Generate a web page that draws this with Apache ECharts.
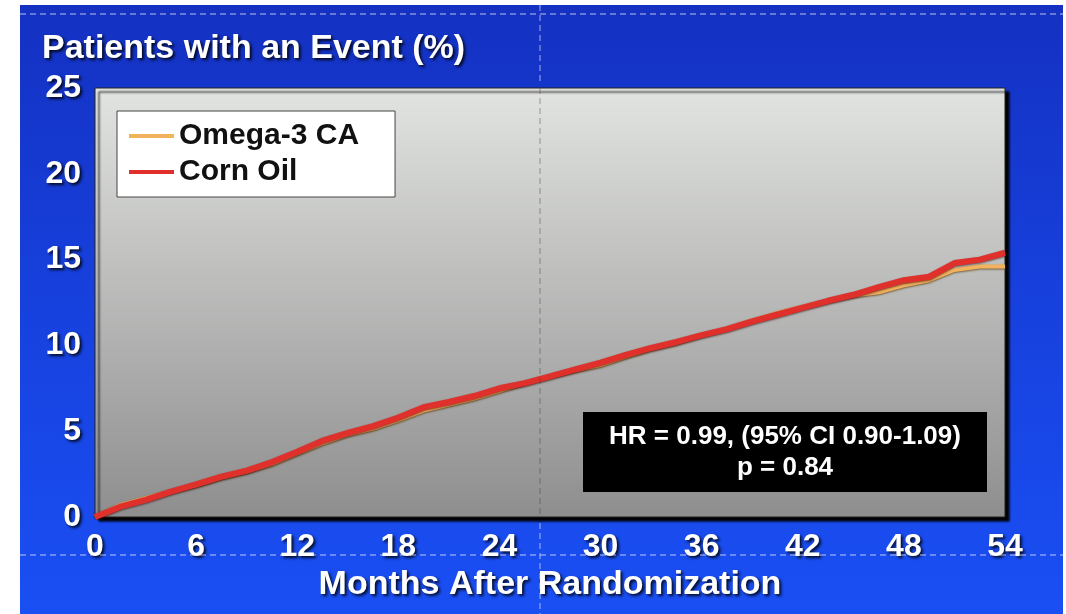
<!DOCTYPE html>
<html>
<head>
<meta charset="utf-8">
<script src="https://cdn.jsdelivr.net/npm/echarts@6/dist/echarts.min.js"></script>
<style>
  html, body { margin: 0; padding: 0; background: #fff; }
  #slide {
    position: absolute;
    left: 20px;
    top: 5px;
    width: 1043px;
    height: 609px;
    background: linear-gradient(to bottom, #1431c2 0%, #1741de 50%, #1a4ff4 100%);
  }
</style>
</head>
<body>
<div id="slide"></div>
<script>
  // months after randomization
  let months = [0, 1.5, 3, 4.5, 6, 7.5, 9, 10.5, 12, 13.5, 15, 16.5, 18, 19.5, 21, 22.5, 24, 25.5, 27,
    28.5, 30, 31.5, 33, 34.5, 36, 37.5, 39, 40.5, 42, 43.5, 45, 46.5, 48, 49.5, 51, 52.5, 54];
  // patients with an event (%)
  let omega3 = [0, 0.7, 1.1, 1.5, 1.85, 2.3, 2.65, 3.1, 3.7, 4.3, 4.8, 5.15, 5.65, 6.2, 6.55, 6.9, 7.35, 7.8, 8.2,
    8.55, 8.85, 9.35, 9.8, 10.15, 10.6, 11.0, 11.45, 11.9, 12.25, 12.6, 12.9, 13.1, 13.5, 13.8, 14.4, 14.6, 14.6];
  let cornOil = [0, 0.6, 1.0, 1.48, 1.9, 2.35, 2.7, 3.2, 3.8, 4.45, 4.9, 5.3, 5.8, 6.4, 6.7, 7.05, 7.5, 7.8, 8.2,
    8.6, 9.0, 9.45, 9.85, 10.2, 10.6, 10.95, 11.4, 11.8, 12.2, 12.6, 12.95, 13.4, 13.8, 14.0, 14.8, 15.0, 15.4];
  let seriesNames = ['Omega-3 CA', 'Corn Oil'];
  let xTicks = [0, 6, 12, 18, 24, 30, 36, 42, 48, 54];
  let yTicks = [0, 5, 10, 15, 20, 25];

  let font = '"Liberation Sans", Arial, sans-serif';
  let whiteText = {
    color: '#fff',
    fontFamily: font,
    fontWeight: 'bold',
    textShadowColor: 'rgba(0,0,0,0.85)',
    textShadowBlur: 3,
    textShadowOffsetX: 2,
    textShadowOffsetY: 2
  };

  let chart = echarts.init(document.getElementById('slide'));
  chart.setOption({
    backgroundColor: 'transparent',
    animation: false,
    title: {
      text: 'Patients with an Event (%)',
      left: 22,
      top: 27,
      padding: 0,
      textStyle: Object.assign({fontSize: 34}, whiteText)
    },
    legend: {
      data: seriesNames,
      orient: 'vertical',
      left: 97,
      top: 106,
      backgroundColor: '#fff',
      borderColor: '#444',
      borderWidth: 1,
      padding: [10, 36, 10, 12],
      itemWidth: 45,
      itemHeight: 4,
      itemGap: 6,
      icon: 'rect',
      textStyle: {
        color: '#111',
        fontFamily: font,
        fontWeight: 'bold',
        fontSize: 30
      }
    },
    grid: {
      show: true,
      left: 75,
      right: 58,
      top: 83,
      bottom: 97,
      borderColor: '#222',
      borderWidth: 1,
      shadowColor: '#000',
      shadowBlur: 2,
      shadowOffsetX: 4,
      shadowOffsetY: 4,
      backgroundColor: new echarts.graphic.LinearGradient(0, 0, 0, 1, [
        {offset: 0, color: '#e2e4e1'},
        {offset: 1, color: '#8e8e8e'}
      ])
    },
    xAxis: {
      type: 'value',
      min: xTicks[0],
      max: xTicks[xTicks.length - 1],
      interval: 6,
      name: 'Months After Randomization',
      nameLocation: 'middle',
      nameGap: 51,
      nameTextStyle: Object.assign({fontSize: 34}, whiteText),
      axisLine: {show: false},
      axisTick: {show: false},
      splitLine: {show: false},
      axisLabel: Object.assign({fontSize: 32, margin: 14}, whiteText)
    },
    yAxis: {
      type: 'value',
      min: yTicks[0],
      max: yTicks[yTicks.length - 1],
      interval: 5,
      axisLine: {show: false},
      axisTick: {show: false},
      splitLine: {show: false},
      axisLabel: Object.assign({fontSize: 32, margin: 14}, whiteText)
    },
    graphic: [
      {
        type: 'group',
        left: 563,
        top: 407,
        z: 50,
        children: [
          {
            type: 'rect',
            shape: {x: 0, y: 0, width: 404, height: 80},
            style: {fill: '#000'}
          },
          {
            type: 'text',
            x: 202,
            y: 40,
            style: {
              text: 'HR = 0.99, (95% CI 0.90-1.09)\np = 0.84',
              fill: '#fff',
              font: 'bold 26px ' + font,
              textAlign: 'center',
              textVerticalAlign: 'middle',
              lineHeight: 31
            }
          }
        ]
      },
      // dashed guide lines from the screen capture
      {
        type: 'line', z: 100, silent: true,
        shape: {x1: 0, y1: 9, x2: 1043, y2: 9},
        style: {stroke: 'rgba(255,255,255,0.7)', lineWidth: 1, lineDash: [6, 4]}
      },
      {
        type: 'line', z: 100, silent: true,
        shape: {x1: 0, y1: 550, x2: 1043, y2: 550},
        style: {stroke: 'rgba(255,255,255,0.7)', lineWidth: 1, lineDash: [6, 4]}
      },
      {
        type: 'line', z: 100, silent: true,
        shape: {x1: 520, y1: 0, x2: 520, y2: 78},
        style: {stroke: 'rgba(255,255,255,0.6)', lineWidth: 1, lineDash: [6, 4]}
      },
      {
        type: 'line', z: 100, silent: true,
        shape: {x1: 520, y1: 83, x2: 520, y2: 512},
        style: {stroke: 'rgba(60,60,60,0.45)', lineWidth: 1, lineDash: [6, 4]}
      },
      {
        type: 'line', z: 100, silent: true,
        shape: {x1: 520, y1: 518, x2: 520, y2: 609},
        style: {stroke: 'rgba(255,255,255,0.6)', lineWidth: 1, lineDash: [6, 4]}
      }
    ],
    series: [
      {
        name: seriesNames[0],
        type: 'line',
        data: months.map((m, i) => [m, omega3[i]]),
        symbol: 'none',
        color: '#f2b35e',
        z: 3,
        lineStyle: {
          width: 4,
          color: '#f2b35e',
          shadowColor: 'rgba(90,50,0,0.7)',
          shadowBlur: 2,
          shadowOffsetY: 1
        }
      },
      {
        name: seriesNames[1],
        type: 'line',
        data: months.map((m, i) => [m, cornOil[i]]),
        symbol: 'none',
        color: '#e0302c',
        z: 4,
        lineStyle: {
          width: 6,
          color: '#e0302c',
          shadowColor: 'rgba(60,0,0,0.6)',
          shadowBlur: 2,
          shadowOffsetY: 1
        }
      }
    ]
  });
</script>
</body>
</html>
